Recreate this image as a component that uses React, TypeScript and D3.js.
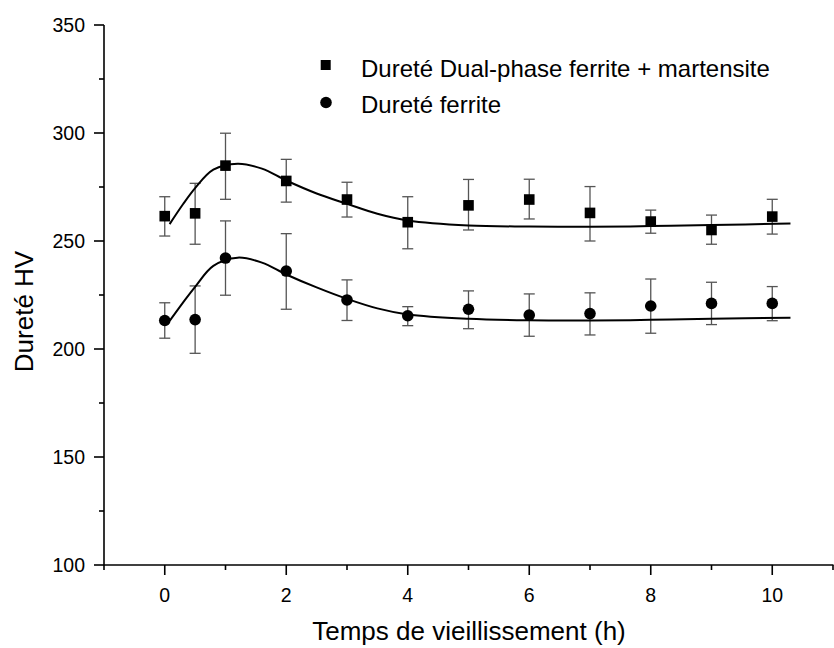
import React from "react";
import * as d3 from "d3";

const xTicks = [0, 2, 4, 6, 8, 10];
const yTicks = [100, 150, 200, 250, 300, 350];

const times = [0, 0.5, 1, 2, 3, 4, 5, 6, 7, 8, 9, 10];

const dualMean = [261.5, 262.8, 284.9, 277.8, 269.2, 258.7, 266.5, 269.2, 263, 259, 255.1, 261.3];
const dualHigh = [270.5, 276.7, 299.9, 287.8, 277.2, 270.5, 278.5, 278.6, 275.2, 264.3, 262, 269.3];
const dualLow = [252.3, 248.5, 269.3, 268, 261.1, 246.4, 255.1, 260.2, 250, 253.6, 248.5, 253.2];

const ferMean = [213.2, 213.6, 242.1, 236.1, 222.7, 215.4, 218.4, 215.7, 216.4, 219.9, 221.1, 221.1];
const ferHigh = [221.4, 229.2, 259.3, 253.4, 232, 219.6, 226.9, 225.5, 226, 232.4, 230.9, 228.9];
const ferLow = [205, 198, 224.9, 218.4, 213.2, 210.8, 209.4, 205.9, 206.5, 207.3, 211.3, 213.1];

const fitX = [0.08, 0.3, 0.5, 0.8, 1.2, 1.6, 2, 2.5, 3, 3.5, 4, 5, 6, 7, 8, 9, 10.3];
const dualFit = [257.8, 267, 274.5, 283, 285.8, 283.5, 278, 272, 267.2, 262.6, 259.5, 257.2, 256.7, 256.6, 256.9, 257.4, 258.1];
const ferFit = [213, 221.5, 228.8, 238.5, 242.3, 240, 234.5, 228.5, 223.2, 218.8, 216, 214, 213.3, 213.2, 213.5, 214, 214.5];

const W = 834;
const H = 648;
const left = 104;
const right = 833;
const top = 25;
const bottom = 565;

export default function App() {
  const x = d3.scaleLinear().domain([-1, 11]).range([left, right]);
  const y = d3.scaleLinear().domain([100, 350]).range([bottom, top]);
  const line = d3
    .line<number>()
    .x((_, i) => x(fitX[i]))
    .y((d) => y(d))
    .curve(d3.curveCatmullRom.alpha(0.5));

  const xMinor = d3.range(-1, 11.01, 1).filter((v) => !xTicks.includes(v));
  const yMinor = d3.range(125, 350, 50);
  const font = "'Liberation Sans', Arial, sans-serif";
  const errColor = "#555";

  const errBars = (mean: number[], hi: number[], lo: number[], key: string) =>
    times.map((t, i) => (
      <g key={key + i} stroke={errColor} strokeWidth={1.3}>
        <line x1={x(t)} x2={x(t)} y1={y(hi[i])} y2={y(lo[i])} />
        <line x1={x(t) - 5.5} x2={x(t) + 5.5} y1={y(hi[i])} y2={y(hi[i])} />
        <line x1={x(t) - 5.5} x2={x(t) + 5.5} y1={y(lo[i])} y2={y(lo[i])} />
      </g>
    ));

  return (
    <svg width={W} height={H} style={{ position: "absolute", left: 0, top: 0, background: "#fff" }} fontFamily={font}>
      <rect width={W} height={H} fill="#fff" />
      {/* axes */}
      <line x1={left} x2={left} y1={top} y2={bottom + 0.5} stroke="#000" strokeWidth={1.6} />
      <line x1={left - 0.5} x2={right + 0.5} y1={bottom} y2={bottom} stroke="#000" strokeWidth={1.6} />
      {yTicks.map((v) => (
        <g key={"yt" + v}>
          <line x1={left - 10} x2={left} y1={y(v)} y2={y(v)} stroke="#000" strokeWidth={1.6} />
          <text x={left - 19} y={y(v)} dy="0.36em" textAnchor="end" fontSize={19.5} fill="#000">
            {v}
          </text>
        </g>
      ))}
      {yMinor.map((v) => (
        <line key={"ym" + v} x1={left - 5} x2={left} y1={y(v)} y2={y(v)} stroke="#000" strokeWidth={1.6} />
      ))}
      {xTicks.map((v) => (
        <g key={"xt" + v}>
          <line x1={x(v)} x2={x(v)} y1={bottom} y2={bottom + 10} stroke="#000" strokeWidth={1.6} />
          <text x={x(v)} y={602} textAnchor="middle" fontSize={19.5} fill="#000">
            {v}
          </text>
        </g>
      ))}
      {xMinor.map((v) => (
        <line key={"xm" + v} x1={x(v)} x2={x(v)} y1={bottom} y2={bottom + 5} stroke="#000" strokeWidth={1.6} />
      ))}
      <text x={469} y={640} textAnchor="middle" fontSize={26} fill="#000">
        Temps de vieillissement (h)
      </text>
      <text transform={`translate(33, 311.5) rotate(-90)`} textAnchor="middle" fontSize={26} fill="#000">
        Dureté HV
      </text>

      {/* error bars */}
      {errBars(dualMean, dualHigh, dualLow, "d")}
      {errBars(ferMean, ferHigh, ferLow, "f")}

      {/* fits */}
      <path d={line(dualFit) || ""} fill="none" stroke="#000" strokeWidth={2} />
      <path d={line(ferFit) || ""} fill="none" stroke="#000" strokeWidth={2} />

      {/* markers */}
      {times.map((t, i) => (
        <rect key={"sq" + i} x={x(t) - 5.3} y={y(dualMean[i]) - 5.3} width={10.6} height={10.6} fill="#000" />
      ))}
      {times.map((t, i) => (
        <circle key={"ci" + i} cx={x(t)} cy={y(ferMean[i])} r={5.8} fill="#000" />
      ))}

      {/* legend */}
      <rect x={320.7} y={60} width={10} height={10} fill="#000" />
      <text x={361} y={77} fontSize={24} fill="#000">
        Dureté Dual-phase ferrite + martensite
      </text>
      <circle cx={326} cy={102.5} r={5.8} fill="#000" />
      <text x={361} y={113} fontSize={24} fill="#000">
        Dureté ferrite
      </text>
    </svg>
  );
}
